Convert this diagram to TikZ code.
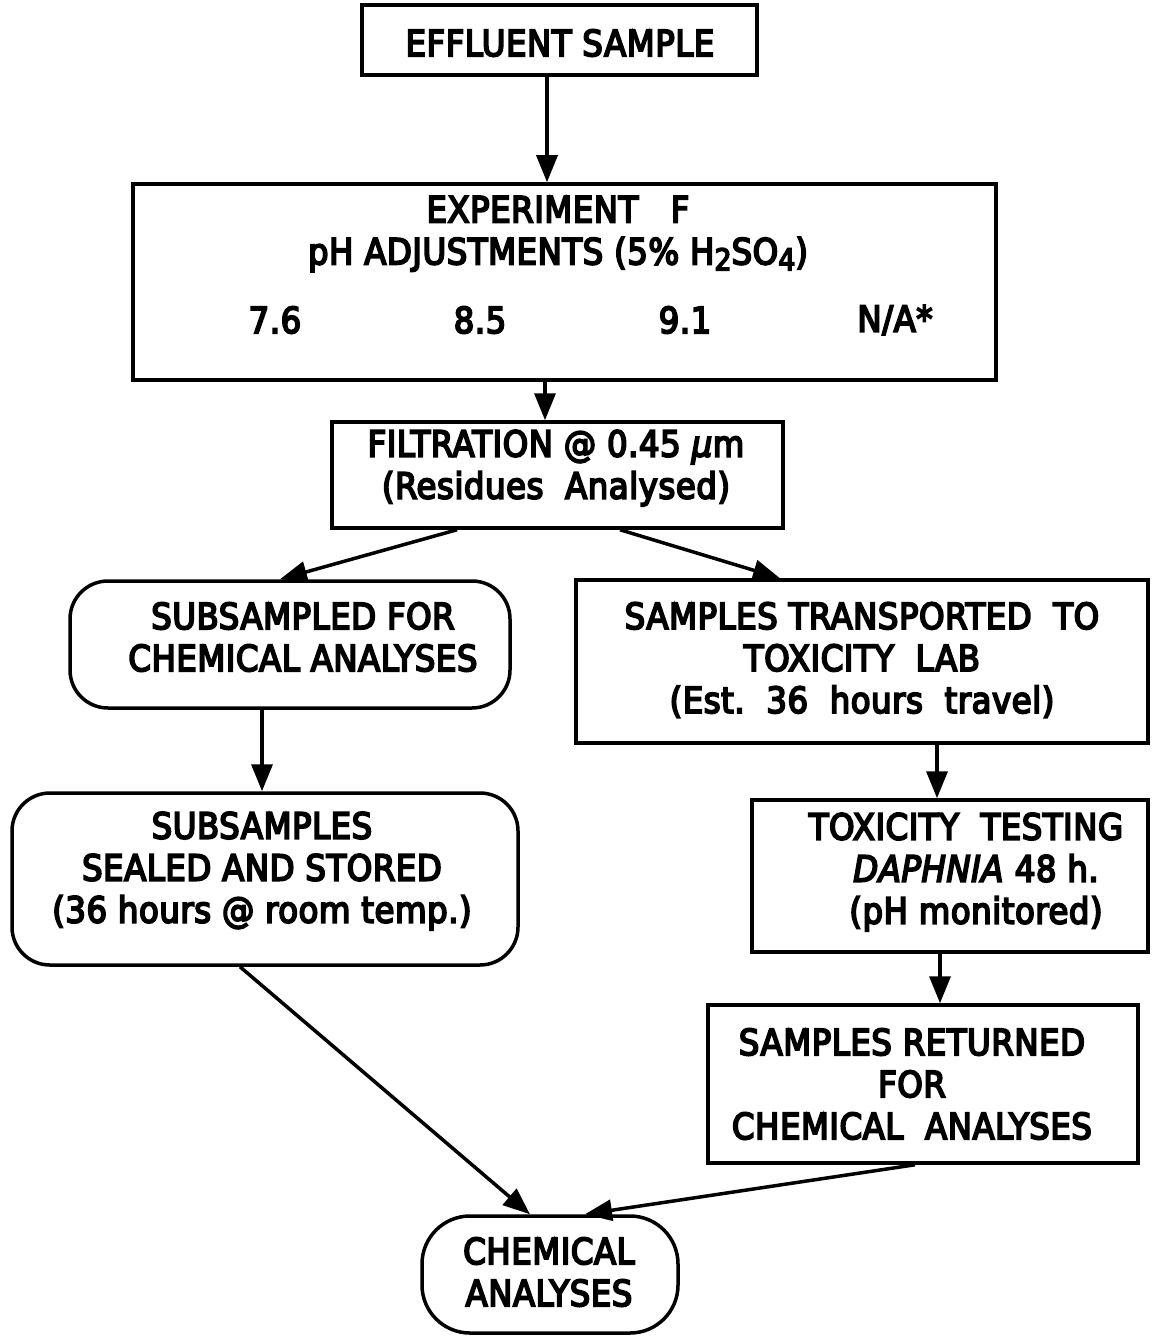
\documentclass[tikz,border=0pt]{standalone}
\usepackage{fontspec}
\setmainfont[FakeBold=5,LetterSpace=1.5]{DejaVu Sans Condensed}
\usetikzlibrary{arrows.meta}
% lowered, slightly smaller digits for the chemical formula
\newcommand\lowdigit[1]{\raisebox{-0.3ex}{\fontsize{30}{30}\selectfont #1}}

\begin{document}
\begin{tikzpicture}[x=1pt,y=-1pt,
  every node/.style={font=\fontsize{36}{42}\selectfont},
  box/.style={draw, line width=3.5pt, inner sep=0pt},
  rbox/.style={box, rounded corners=38pt},
  txt/.style={align=center, inner sep=0pt},
  arr/.style={line width=3.5pt, -{Triangle[length=27pt,width=21pt]}}]
\useasboundingbox (0,0) rectangle (1160,1337);

% boxes
\node[box,  minimum width=395pt, minimum height=70pt]  (eff)   at (559.5,40)   {};
\node[box,  minimum width=863pt, minimum height=196pt] (exp)   at (564.5,282)  {};
\node[box,  minimum width=451pt, minimum height=106pt] (filt)  at (557.5,475)  {};
\node[rbox, minimum width=440pt, minimum height=127pt] (sub)   at (290,644.5)  {};
\node[box,  minimum width=572pt, minimum height=163pt] (trans) at (862,661.5)  {};
\node[rbox, minimum width=506pt, minimum height=172pt] (seal)  at (265,879)    {};
\node[box,  minimum width=396pt, minimum height=152pt] (tox)   at (950,876)    {};
\node[box,  minimum width=430pt, minimum height=158pt] (ret)   at (923,1084)   {};
\node[rbox, rounded corners=48pt, minimum width=256pt, minimum height=117pt] (chem) at (550,1274.5) {};

% texts
\node[txt] (effT)  at (560,43)  {EFFLUENT SAMPLE};
\node[txt] (expT)  at (558,234) {EXPERIMENT\ \ \ F\\pH ADJUSTMENTS (5\% H\lowdigit{2}SO\lowdigit{4})};
\node[txt] (ph1)   at (275,320) {7.6};
\node[txt] (ph2)   at (480,320) {8.5};
\node[txt] (ph3)   at (685,320) {9.1};
\node[txt] (ph4)   at (895,320) {N/A*};
\node[txt] (filtT) at (556,468) {FILTRATION @ 0.45 \textit{μ}m\\(Residues\ \ Analysed)};
\node[txt] (subT)  at (303,637) {SUBSAMPLED FOR\\CHEMICAL ANALYSES};
\node[txt] (transT) at (862,660) {SAMPLES TRANSPORTED\ \ TO\\TOXICITY\ \ LAB\\(Est.\ \ 36\ \ hours\ \ travel)};
\node[txt] (sealT) at (262,871) {SUBSAMPLES\\SEALED AND STORED\\(36 hours @ room temp.)};
\node[txt] (toxT)  at (966,872) {TOXICITY\ \ TESTING\\\hspace*{20pt}\textit{DAPHNIA} 48 h.\\\hspace*{20pt}(pH monitored)};
\node[txt] (retT)  at (912,1084) {SAMPLES RETURNED\\FOR\\CHEMICAL\ \ ANALYSES};
\node[txt] (chemT) at (549,1272) {CHEMICAL\\ANALYSES};

% connectors
\draw[arr] ([xshift=-12.5pt]eff.south)  -- ([xshift=-17.5pt]exp.north);
\draw[arr] ([xshift=-19.5pt]exp.south)  -- ([xshift=-12.5pt]filt.north);
\draw[arr] ([xshift=-100.5pt]filt.south) -- ([xshift=-10pt]sub.north);
\draw[arr] ([xshift=62.5pt]filt.south)  -- ([xshift=-82pt]trans.north);
\draw[arr] ([xshift=-28pt]sub.south)    -- ([xshift=-3pt]seal.north);
\draw[arr] ([xshift=75pt]trans.south)   -- ([xshift=-13pt]tox.north);
\draw[arr] ([xshift=-10pt]tox.south)    -- ([xshift=17pt]ret.north);
\draw[arr] ([xshift=-25pt]seal.south)   -- ([xshift=-20pt]chem.north);
\draw[arr] ([xshift=-8pt]ret.south)     -- ([xshift=35pt]chem.north);
\end{tikzpicture}
\end{document}
